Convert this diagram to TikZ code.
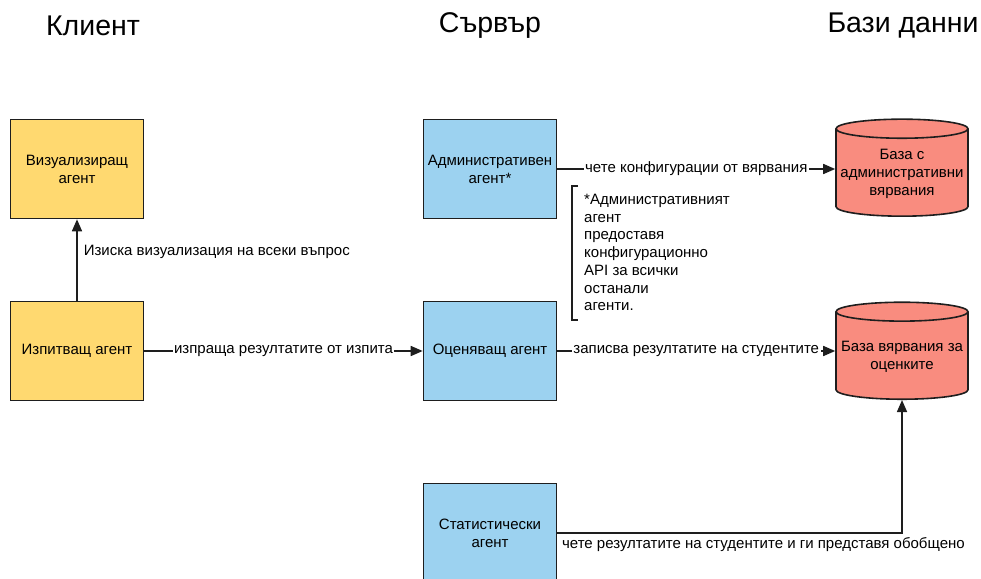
\documentclass[tikz,border=0pt]{standalone}
\usepackage{fontspec}
\setmainfont{Liberation Sans}
\usepackage{tikz}
\usetikzlibrary{shapes.geometric, arrows.meta}
\definecolor{agentyellow}{HTML}{FFD970}
\definecolor{agentblue}{HTML}{9CD2F0}
\definecolor{dbred}{HTML}{F98C7F}
\definecolor{edgegray}{HTML}{1E1E1E}

\begin{document}
\begin{tikzpicture}[x=1pt, y=-1pt, font=\fontsize{15}{18}\selectfont,
    agent/.style={rectangle, draw=edgegray, line width=1.6pt, minimum width=133pt, minimum height=99pt, align=center, inner sep=2pt},
    db/.style={cylinder, shape border rotate=90, aspect=0.15, draw=edgegray, line width=1.6pt, fill=dbred, minimum width=132pt, minimum height=97pt, align=center, inner sep=2pt},
    link/.style={draw=edgegray, line width=1.6pt, -{Triangle[length=12pt, width=10pt]}},
    lbl/.style={fill=white, inner sep=1.5pt},
    title/.style={font=\fontsize{28.5}{32}\selectfont}]
    \useasboundingbox (0,0) rectangle (981,578);

    \node[title] (klient) at (93,26) {Клиент};
    \node[title] (server) at (490,26) {Сървър};
    \node[title] (bazi) at (903,26) {Бази данни};

    \node[agent, fill=agentyellow] (viz) at (77,169) {Визуализиращ\\агент};
    \node[agent, fill=agentyellow] (izp) at (77,351) {Изпитващ агент};

    \node[agent, fill=agentblue] (admin) at (490,169) {Административен\\агент*};
    \node[agent, fill=agentblue] (ocen) at (490,351) {Оценяващ агент};
    \node[agent, fill=agentblue] (stat) at (490,533) {Статистически\\агент};

    \node[db] (dbadmin) at (902,174) {База с\\административни\\вярвания};
    \node[db] (dbocen) at (902,357) {База вярвания за\\оценките};

    \node[anchor=north west, align=left, inner sep=0pt, font=\fontsize{15}{17.7}\selectfont] (note) at (584,194)
        {*Административният\\агент\\предоставя\\конфигурационно\\API за всички\\останали\\агенти.};
    \draw[edgegray, line width=1.4pt] ([xshift=-6pt,yshift=8pt]note.north west) -- ([xshift=-12pt,yshift=8pt]note.north west)
        -- ([xshift=-12pt,yshift=-9pt]note.south west) -- ([xshift=-6pt,yshift=-9pt]note.south west);

    \draw[link] (izp) -- (viz) node[pos=0.6, right, inner sep=6pt] {Изиска визуализация на всеки въпрос};
    \draw[link] (izp) -- (ocen) node[midway, lbl] {изпраща резултатите от изпита};
    \draw[link] (admin) -- (admin -| dbadmin.west) node[midway, lbl] {чете конфигурации от вярвания};
    \draw[link] (ocen) -- (ocen -| dbocen.west) node[midway, lbl] {записва резултатите на студентите};
    \draw[link] (stat.east) -| (dbocen.south)
        node[pos=0, anchor=north west, inner sep=4pt] {чете резултатите на студентите и ги представя обобщено};
\end{tikzpicture}
\end{document}
